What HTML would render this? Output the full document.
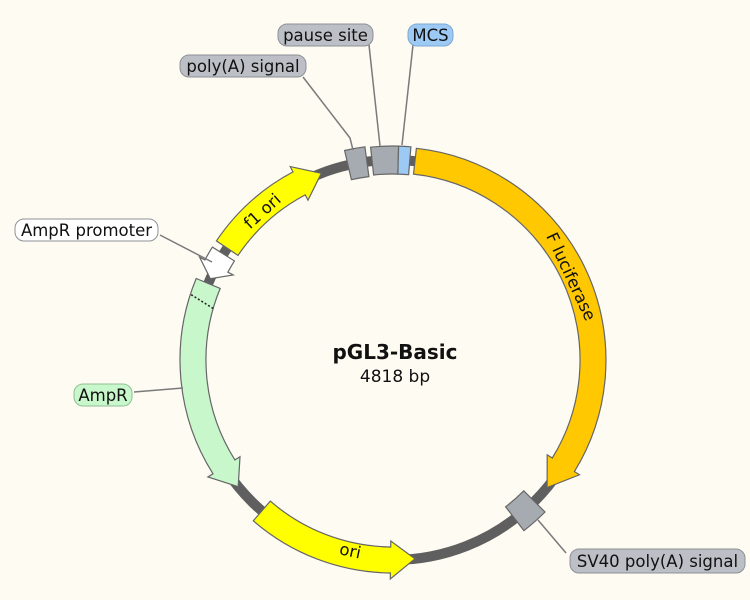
<!DOCTYPE html>
<html><head><meta charset="utf-8"><style>
html,body{margin:0;padding:0;background:#fefbf3;}
svg{display:block;font-family:"DejaVu Sans","Liberation Sans",sans-serif;}
</style></head><body>
<svg id="s" width="750" height="600" viewBox="0 0 750 600">
<rect width="750" height="600" fill="#fefbf3"/>
<circle cx="393" cy="360" r="200" fill="none" stroke="#5f5f5f" stroke-width="10"/>
<g id="f"></g>
<g stroke="#7a7a7a" stroke-width="1.5" fill="none">
<polyline points="303,77 350,138 353,150"/>
<line x1="369" y1="45" x2="380" y2="146"/>
<line x1="413" y1="45" x2="402" y2="145"/>
<line x1="160" y1="235" x2="212" y2="262"/>
<line x1="134" y1="392" x2="183" y2="388"/>
<line x1="566" y1="553" x2="538" y2="520"/>
</g>
<g font-size="16.5" fill="#111">
<rect x="278" y="24" width="95" height="22" rx="9" fill="#bcc0c6" stroke="#8d9196"/>
<text x="325.5" y="41" text-anchor="middle">pause site</text>
<rect x="408" y="24" width="45" height="22" rx="9" fill="#9ccaf5" stroke="#7fa8cf"/>
<text x="430.5" y="41" text-anchor="middle">MCS</text>
<rect x="180" y="55" width="126" height="22" rx="9" fill="#bcc0c6" stroke="#8d9196"/>
<text x="243" y="72" text-anchor="middle">poly(A) signal</text>
<rect x="15" y="219" width="143" height="22" rx="9" fill="#ffffff" stroke="#8d9196"/>
<text x="86.5" y="236" text-anchor="middle">AmpR promoter</text>
<rect x="74" y="384" width="58" height="22" rx="9" fill="#c8f7cc" stroke="#8fbf93"/>
<text x="103" y="401" text-anchor="middle">AmpR</text>
<rect x="570" y="549" width="175" height="24" rx="9" fill="#bcc0c6" stroke="#8d9196"/>
<text x="657.5" y="567" text-anchor="middle">SV40 poly(A) signal</text>
</g>
<text x="570" y="277" font-size="16.5" fill="#111" text-anchor="middle" dominant-baseline="middle" transform="rotate(65 570 277)">F luciferase</text>
<text x="350" y="552" font-size="16.5" fill="#111" text-anchor="middle" dominant-baseline="middle" transform="rotate(12 350 552)">ori</text>
<text x="263" y="212" font-size="16.5" fill="#111" text-anchor="middle" dominant-baseline="middle" transform="rotate(-42 263 212)">f1 ori</text>
<text x="395" y="359" font-size="20" font-weight="bold" fill="#111" text-anchor="middle">pGL3-Basic</text>
<text x="395" y="382" font-size="17" fill="#111" text-anchor="middle">4818 bp</text>
</svg>
<script>
var cx=393,cy=360,R=200,W=13,H=19;
function p(a,r){var t=a*Math.PI/180;return (cx+r*Math.sin(t)).toFixed(1)+","+(cy-r*Math.cos(t)).toFixed(1);}
function arc(a1,a2,r){var d=a2>a1?1:0;var l=Math.abs(a2-a1)>180?1:0;return "A"+r+","+r+" 0 "+l+" "+d+" "+p(a2,r);}
function box(a1,a2,fill,ex){ex=ex||0;var o=R+W+ex,i=R-W-ex;
return '<path d="M'+p(a1,o)+arc(a1,a2,o)+"L"+p(a2,i)+arc(a2,a1,i)+'Z" fill="'+fill+'" stroke="#666" stroke-width="1.2"/>';}
function arrow(a1,a2,fill,hl){var s=a2>a1?1:-1;var b=a2-s*hl;var o=R+W,i=R-W;
return '<path d="M'+p(a1,o)+arc(a1,b,o)+"L"+p(b,R+H)+"L"+p(a2,R)+"L"+p(b,R-H)+"L"+p(b,i)+arc(b,a1,i)+'Z" fill="'+fill+'" stroke="#666" stroke-width="1.2"/>';}
var h="";
h+=arrow(6.3,129.6,"#ffc800",8);
h+=box(135,142.5,"#a6aab1",2);
h+=arrow(221,173.7,"#ffff00",7);
h+=arrow(292.5,230.7,"#c8f7cc",7);
h+='<path d="M'+p(286,R-W)+"L"+p(288,R+W)+'" stroke="#222" stroke-width="1.5" stroke-dasharray="2,2" fill="none"/>';
h+=arrow(302,294,"#ffffff",4);
h+=arrow(304,339,"#ffff00",7);
h+=box(347,352.5,"#a6aab1",2);
h+=box(354,361.5,"#a6aab1",1);
h+=box(361.5,364.8,"#9ccaf5",1);
document.getElementById("f").innerHTML=h;
</script>
</body></html>
